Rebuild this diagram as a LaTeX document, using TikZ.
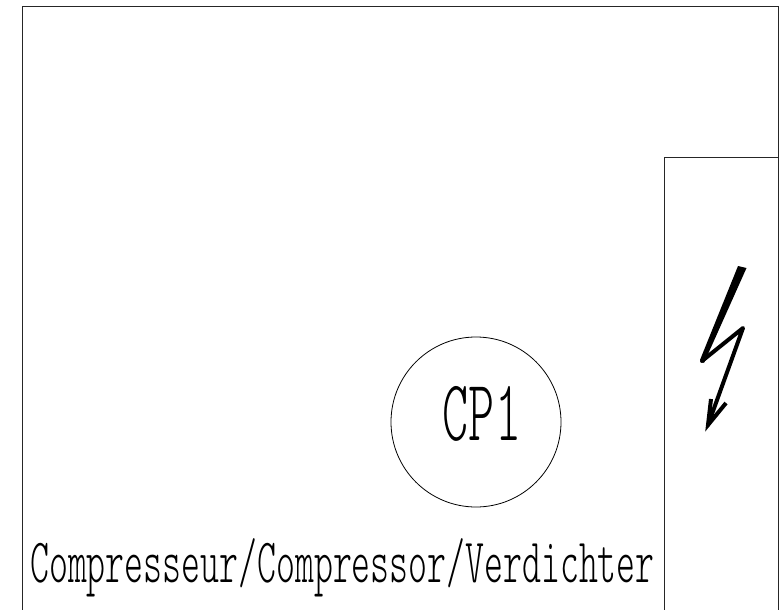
\documentclass[tikz,border=0pt]{standalone}
\tikzset{
  frameline/.style={line width=0.9pt, black!85},
  stretched/.style={font=\ttfamily\fontseries{l}\selectfont, inner sep=0pt, yscale=1.75},
}

\begin{document}
\begin{tikzpicture}[x=1pt, y=-1pt]
            \useasboundingbox (0,0) rectangle (779,610);

            \draw[frameline] (22.5,610) -- (22.5,6.5) -- (778,6.5) -- (778,610);
            \draw[frameline] (664.5,610) -- (664.5,157.5) -- (778,157.5);

            \node[draw, circle, line width=0.8pt, minimum size=170pt, inner sep=0pt] (cp1) at (476,422) {};
            \node[stretched, anchor=base] (cp1text) at (482,440) {\fontsize{49.7}{50}\selectfont CP1};
            \node[stretched, anchor=base west] (label) at (30,582) {\fontsize{36.05}{37}\selectfont Compresseur/Compressor/Verdichter};

            % lightning bolt
            \fill[line join=round] (738,266) -- (746.5,268) -- (704,363) -- (700,360) -- cycle;
            \draw[line width=4pt, line join=round, line cap=round] (702,361) -- (743,328) -- (708,425);
            \draw[line width=4pt, line join=miter] (711,399) -- (708,425) -- (726,403);
\end{tikzpicture}
\end{document}
